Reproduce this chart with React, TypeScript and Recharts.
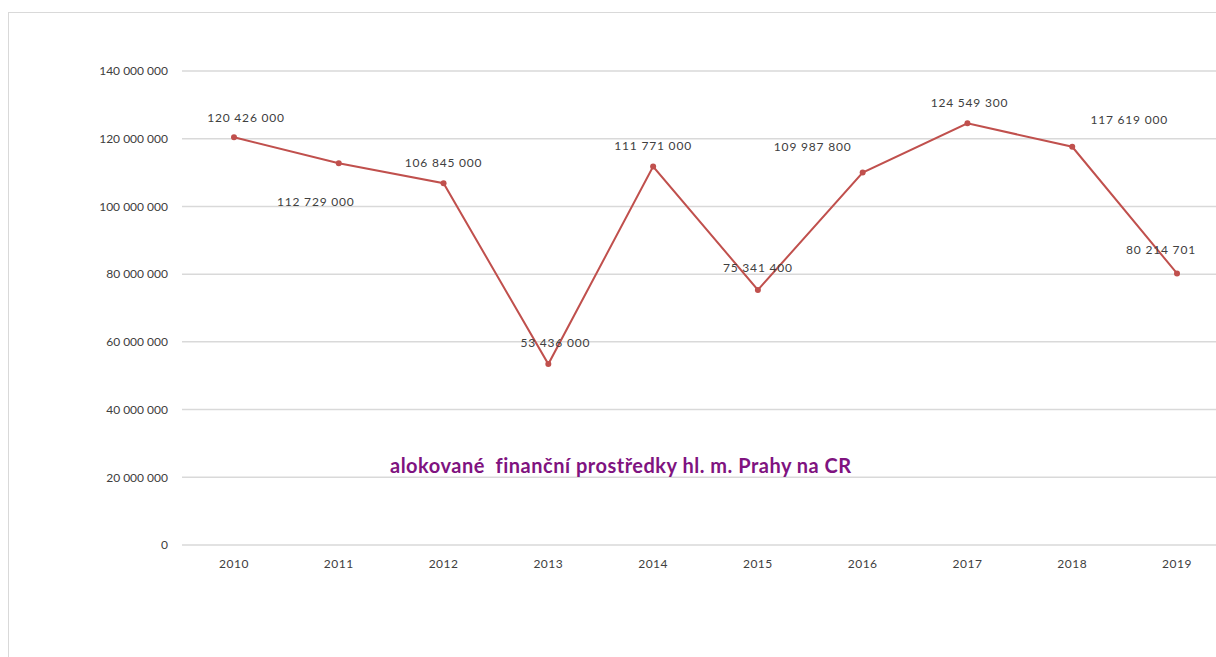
import { LineChart, Line, XAxis, YAxis, CartesianGrid, LabelList } from 'recharts';

const years = ['2010', '2011', '2012', '2013', '2014', '2015', '2016', '2017', '2018', '2019'];
const amounts = [120426000, 112729000, 106845000, 53436000, 111771000, 75341400, 109987800, 124549300, 117619000, 80214701];
const yTicks = [0, 20000000, 40000000, 60000000, 80000000, 100000000, 120000000, 140000000];
const title = 'alokované  finanční prostředky hl. m. Prahy na CR';

// label placement tweaks, roughly as in the original (dx, dy from point)
const labelShift = [
  [12, -20], [-23, 38], [0, -21], [7, -22], [0, -21],
  [0, -22], [-50, -26], [2, -21], [57, -27], [-16, -24],
];

const fmt = (v: number) => String(v).replace(/\B(?=(\d{3})+(?!\d))/g, ' ');

const data = years.map((y, i) => ({ year: y, amount: amounts[i] }));

function PointLabel(props: any) {
  const { x, y, value, index } = props;
  const [dx, dy] = labelShift[index] || [0, -20];
  return (
    <text x={x + dx} y={y + dy} textAnchor="middle" dominantBaseline="central"
      fontSize={12} fill="#404040" letterSpacing={0.8} fontFamily="Lato">
      {fmt(value)}
    </text>
  );
}

export default function App() {
  return (
    <div style={{ position: 'absolute', left: 0, top: 0, width: 1216, height: 657, overflow: 'hidden', background: '#fff', fontFamily: 'Lato' }}>
      <div style={{ position: 'absolute', left: 8, top: 12, width: 1240, height: 700, border: '1px solid #d9d9d9', boxSizing: 'border-box' }} />
      <div style={{ position: 'absolute', left: 0, top: 0 }}>
        <LineChart width={1240} height={657} data={data} margin={{ top: 71, right: 11, left: 0, bottom: 0 }}>
          <CartesianGrid horizontal vertical={false} stroke="#d9d9d9" strokeWidth={1.5} />
          <XAxis dataKey="year" axisLine={false} tickLine={false} height={112} tickMargin={8}
            padding={{ left: 52, right: 52 }}
            tick={{ fontSize: 12, fill: '#404040', fontFamily: 'Lato', letterSpacing: 0.5 }} />
          <YAxis width={182} domain={[0, 140000000]} ticks={yTicks} axisLine={false} tickLine={false}
            tickMargin={8} tickFormatter={fmt} interval={0}
            tick={{ fontSize: 12, fill: '#404040', fontFamily: 'Lato' }} />
          <Line type="linear" dataKey="amount" stroke="#c0504d" strokeWidth={2}
            dot={{ r: 3, fill: '#c0504d', stroke: '#c0504d', strokeWidth: 0 }} isAnimationActive={false}>
            <LabelList dataKey="amount" content={PointLabel} />
          </Line>
        </LineChart>
      </div>
      <div style={{ position: 'absolute', left: 390, top: 453, fontSize: 20, fontWeight: 'bold', color: '#7f1380', whiteSpace: 'pre', fontFamily: 'Lato', letterSpacing: 0.5 }}>
        {title}
      </div>
    </div>
  );
}
